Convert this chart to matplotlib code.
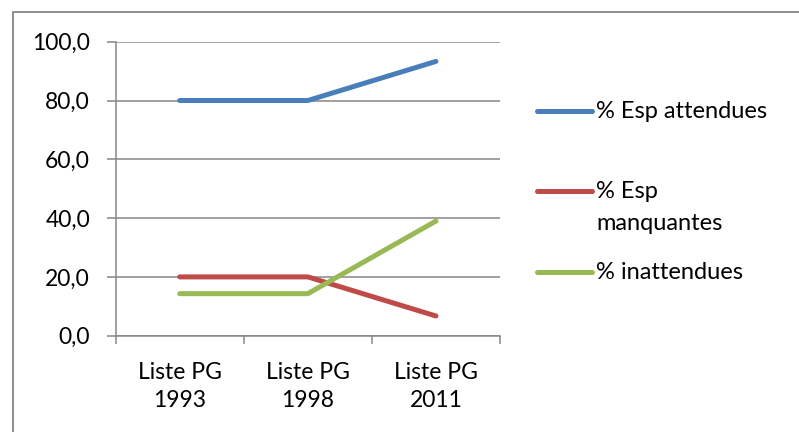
import matplotlib.pyplot as plt
from matplotlib.lines import Line2D
from matplotlib.patches import Rectangle
from matplotlib.ticker import FuncFormatter

# Data
categories = ['Liste PG\n1993', 'Liste PG\n1998', 'Liste PG\n2011']
esp_attendues = [80.0, 80.0, 93.3]
esp_manquantes = [20.0, 20.0, 6.7]
inattendues = [14.3, 14.3, 39.0]
series_labels = ['% Esp attendues', '% Esp\nmanquantes', '% inattendues']
colors = ['#4A7EBB', '#BE4B48', '#98B954']

plt.rcParams['font.family'] = ['Lato', 'DejaVu Sans']
fs = 16.5

W, H = 799, 432
fig = plt.figure(figsize=(W / 100, H / 100), dpi=100)

# plot area in pixels
left, right, top, bottom = 115.7, 500, 41.7, 335.7
ax = fig.add_axes([left / W, 1 - bottom / H, (right - left) / W, (bottom - top) / H])

grid_col = '#868686'
x = list(range(len(categories)))
for vals, col in zip([esp_attendues, esp_manquantes, inattendues], colors):
    ax.plot(x, vals, color=col, lw=3.6, solid_capstyle='round',
            solid_joinstyle='round', zorder=3)

ax.set_xlim(-0.5, len(categories) - 0.5)
ax.set_ylim(0, 100)
ax.set_yticks(range(0, 101, 20))
ax.yaxis.set_major_formatter(FuncFormatter(lambda v, p: f'{v:.1f}'.replace('.', ',')))
ax.yaxis.grid(True, color=grid_col, lw=1.1)
ax.set_axisbelow(True)

# category boundaries as major ticks, labels on minor ticks
ax.set_xticks([i - 0.5 for i in range(len(categories) + 1)])
ax.set_xticklabels([])
ax.set_xticks(x, minor=True)
ax.set_xticklabels(categories, minor=True, fontsize=fs, linespacing=1.42)
ax.tick_params(axis='x', which='major', length=6, color=grid_col, width=1.1)
ax.tick_params(axis='x', which='minor', length=0, pad=19)
ax.tick_params(axis='y', length=6.5, color=grid_col, width=1.1, pad=12,
               labelsize=fs)

for s in ['top', 'right']:
    ax.spines[s].set_visible(False)
for s in ['left', 'bottom']:
    ax.spines[s].set_color(grid_col)
    ax.spines[s].set_linewidth(1.1)

# legend drawn by hand to mimic the spreadsheet layout
leg_y = [110.7, 191.0, 271.7]
for lab, col, yy in zip(series_labels, colors, leg_y):
    fig.add_artist(Line2D([536.7 / W, 591.7 / W], [1 - yy / H, 1 - yy / H],
                          color=col, lw=3.6, solid_capstyle='round'))
    # one text per line so the first line sits next to the marker
    for i, part in enumerate(lab.split('\n')):
        fig.text(596 / W, 1 - (yy + 7 + i * 31.7) / H, part, fontsize=fs + 0.5,
                 va='baseline', ha='left')

# chart border (runs off the right and bottom)
fig.add_artist(Rectangle((13 / W, -0.05), 1.1, 1 - 12 / H + 0.05,
                         transform=fig.transFigure, fill=False,
                         edgecolor=grid_col, lw=1.3))

fig.savefig('out.png', dpi=100)
